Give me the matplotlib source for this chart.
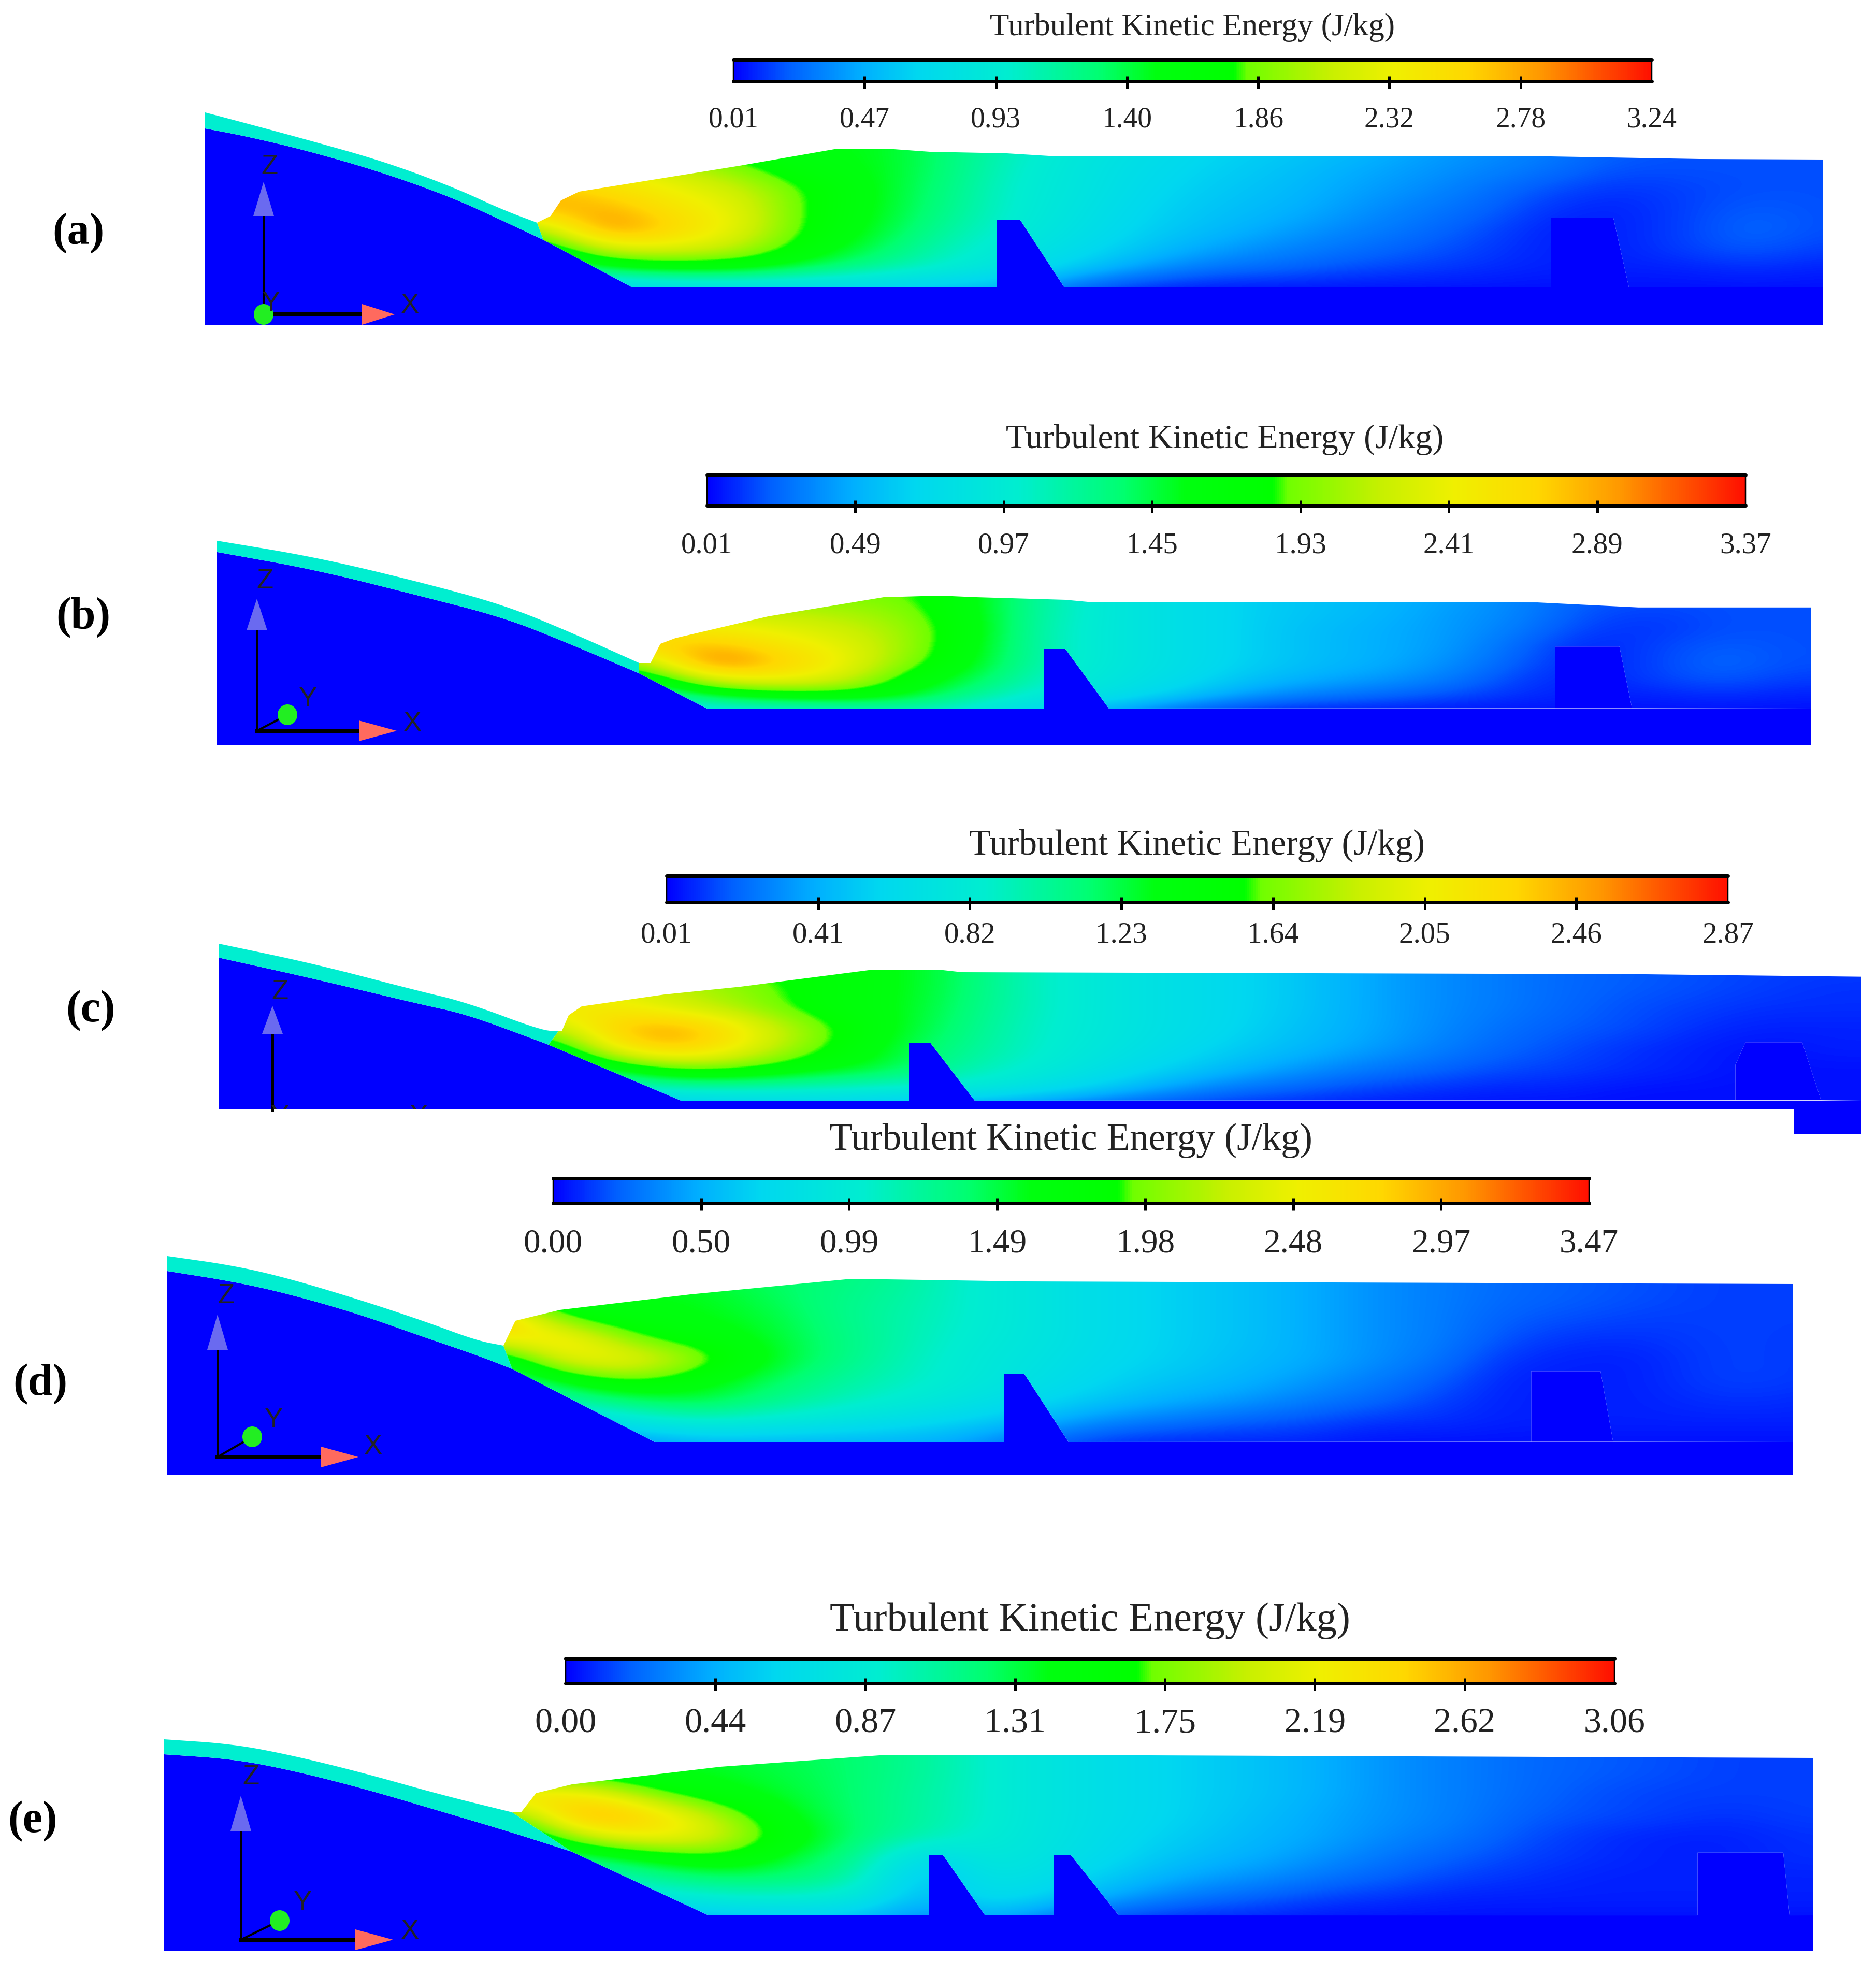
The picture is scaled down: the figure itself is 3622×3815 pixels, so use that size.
import numpy as np
import matplotlib
matplotlib.use("Agg")
import matplotlib.pyplot as plt
from matplotlib.colors import LinearSegmentedColormap
from matplotlib.patches import Polygon, Ellipse, Rectangle

plt.rcParams['font.family'] = ['Liberation Serif', 'DejaVu Serif']

W, H = 3623, 3815
title = "Turbulent Kinetic Energy (J/kg)"

# colour scale, position along bar in percent -> colour
cmap_pos = [0, 6, 14, 20, 30, 40, 46, 54.5, 56, 65, 72, 80, 88, 100]
cmap_col = ['#0000ff', '#0060ff', '#00b0ff', '#00d8f0', '#00eed0', '#00ff70', '#00ff10',
            '#00ff00', '#70ff00', '#c8f000', '#f0f000', '#ffd800', '#ff9800', '#ff1000']
cmap = LinearSegmentedColormap.from_list('tke', [(p / 100, c) for p, c in zip(cmap_pos, cmap_col)], N=512)

ticks_a = ['0.01', '0.47', '0.93', '1.40', '1.86', '2.32', '2.78', '3.24']
ticks_b = ['0.01', '0.49', '0.97', '1.45', '1.93', '2.41', '2.89', '3.37']
ticks_c = ['0.01', '0.41', '0.82', '1.23', '1.64', '2.05', '2.46', '2.87']
ticks_d = ['0.00', '0.50', '0.99', '1.49', '1.98', '2.48', '2.97', '3.47']
ticks_e = ['0.00', '0.44', '0.87', '1.31', '1.75', '2.19', '2.62', '3.06']

# TKE as percent of each panel's colour bar, sampled on a regular grid
field_a = [
 [60,60,56,50,46,46,40,32,27,23,20,18,16,13,11,9,6,5,5,5],
 [68,72,66,58,48,46,40,31,26,22,19,17,14,12,10,8,5,5,5,5],
 [84,78,72,66,54,46,39,30,26,21,18,16,13,11,8,5,3,4,5,5],
 [84,86,76,70,53,46,38,30,25,20,17,15,12,9,7,3,2,4,6,5],
 [60,92,80,70,53,45,36,29,24,19,16,13,10,8,5,2,2,4,7,5],
 [42,68,70,64,50,42,33,27,22,17,13,10,8,6,4,2,2,4,6,4],
 [32,44,48,48,42,36,30,25,18,12,8,7,5,4,3,2,2,2,3,2],
 [12,18,20,20,19,18,16,14,5,2,1,1,1,1,1,1,1,1,1,1]]
field_b = [
 [60,60,58,57,56,46,34,27,23,19,17,15,13,10,6,5,5,5],
 [66,66,64,62,58,46,34,27,23,19,17,15,12,10,5,4,5,5],
 [74,74,70,66,60,47,33,27,23,19,16,14,12,9,4,3,5,5],
 [80,84,76,70,60,46,33,27,23,19,16,14,12,7,2,4,6,5],
 [60,94,82,72,58,45,33,27,23,19,16,14,11,6,2,4,7,5],
 [42,70,74,68,50,42,31,26,22,17,14,12,9,4,2,4,6,4],
 [30,44,50,52,46,36,28,24,18,12,9,7,5,3,2,2,3,2],
 [20,24,26,28,30,26,18,12,5,2,1,1,1,1,1,1,1,1]]
field_c = [
 [60,58,56,54,50,47,42,33,28,24,21,18,14,11,9,7,6,5,4,4],
 [68,70,64,58,52,47,42,33,28,24,21,18,14,11,9,7,6,5,4,3],
 [76,74,66,60,50,47,41,33,28,24,21,18,14,11,9,7,5,4,3,3],
 [62,84,88,72,58,47,40,32,28,24,21,17,14,11,8,6,5,3,2,2],
 [40,76,84,70,56,45,38,32,27,23,19,16,13,10,7,5,3,2,1,2],
 [30,44,56,54,47,44,35,30,25,20,16,12,9,7,5,4,3,2,1,1],
 [25,28,30,30,30,28,28,24,19,13,8,6,4,3,2,2,1,1,1,1],
 [8,10,12,14,14,12,8,6,2,1,1,1,1,1,1,1,1,1,1,1]]
field_d = [
 [45,45,44,43,41,39,36,30,26,22,19,17,14,11,9,7,6,5,4,4,4],
 [46,46,46,46,42,38,35,30,26,22,19,17,14,11,9,7,6,5,4,4,4],
 [90,52,48,46,44,38,34,30,26,22,19,17,14,11,9,6,5,4,4,4,4],
 [72,80,56,50,45,39,34,29,26,22,19,17,14,11,9,5,3,3,4,4,3],
 [40,72,74,60,46,39,33,28,25,21,19,16,14,11,8,3,2,2,4,4,3],
 [34,46,57,48,42,36,32,28,24,20,17,15,12,9,6,2,2,2,4,4,3],
 [28,34,40,44,38,33,29,25,21,17,14,12,9,7,4,2,2,2,3,3,2],
 [18,20,26,30,28,25,22,19,15,10,8,6,5,3,3,2,2,2,2,2,2],
 [6,8,10,14,14,14,14,12,6,3,2,2,2,1,1,1,1,1,1,1,1]]
field_e = [
 [50,48,46,44,42,40,36,30,25,22,19,17,14,11,9,7,6,5,4,4],
 [50,48,46,45,43,40,36,30,25,22,19,17,14,11,9,7,6,5,4,4],
 [80,76,57,48,44,40,35,30,25,22,19,17,14,11,9,7,5,4,4,4],
 [56,92,80,62,46,40,35,30,25,22,19,16,13,11,9,6,5,4,3,4],
 [40,66,76,68,50,40,34,29,25,21,18,15,13,10,8,5,3,2,2,3],
 [34,40,48,55,44,38,20,28,24,20,16,14,11,8,6,4,3,2,2,3],
 [28,30,36,40,40,35,14,26,22,17,13,11,8,6,4,3,2,2,2,2],
 [22,24,26,30,30,28,14,23,18,12,8,6,4,3,2,2,2,2,2,2],
 [10,10,12,14,16,16,8,14,6,3,2,2,1,1,1,1,1,1,1,1]]

S = 3623 / 1489  # shrunk-view px to full px

def sh(pts):
    return [(x * S, y * S) for x, y in pts]

def smooth(pts, n=3):
    """Corner cutting for the rounded crest, keeps both ends."""
    pts = np.array(pts, dtype=float)
    for _ in range(n):
        q = [pts[0]]
        for a, b in zip(pts[:-1], pts[1:]):
            q += [0.75 * a + 0.25 * b, 0.25 * a + 0.75 * b]
        q.append(pts[-1])
        pts = np.array(q)
    return [tuple(v) for v in pts]

panels = [
 dict(name='(a)', lab=(151, 450), field=field_a, gx=(1040, 130), gy=(290, 38), ticks=ticks_a,
      bar=(1416, 3189, 115, 157), tx=2302, ty=53, ly=232, fs_title=44, fs_lab=40,
      left=396, right=3520, fb=555, pb=628,
      jet_top=[(396,217),(475,238),(590,269),(739,311),(877,362),(968,404),(1037,430)],
      crest=[(396,248),(475,263),(590,290),(739,333),(877,383),(968,425),(1049,463)], foot=(1221,555),
      flow=[(1037,430),(1063,417),(1083,387),(1118,370),(1428,320),(1611,288),(1726,288),(1795,293),
            (1944,296),(2025,301),(2994,302),(3281,307),(3520,308)],
      blocks=[[(2055,555),(1970,425),(1924,425),(1924,555)], [(3145,555),(3115,421),(2994,421),(2994,555)]],
      triad=dict(o=(509,607), zt=(509,351), zb=417, xb=699, xt=762, ell=(509,607), zl=(520,322), xl=(791,590), yl=(523,586))),
 dict(name='(b)', lab=(161, 1192), field=field_b, gx=(1240, 130), gy=(1150, 32), ticks=ticks_b,
      bar=(1365, 3370, 917, 976), tx=2365, ty=849, ly=1053, fs_title=47.5, fs_lab=41,
      left=418, right=3497, fb=1368, pb=1438,
      jet_top=sh([(172,429),(250,442),(330,461),(400,480)]) + [(1100,1220),(1234,1280)],
      crest=sh([(172,438),(250,452),(330,472),(400,490)]) + [(1100,1243),(1234,1300)], foot=(1365,1368),
      flow=[(1234,1280),(1256,1280),(1275,1243),(1304,1232),(1483,1190),(1706,1153),(1815,1150),(1885,1153),
            (2057,1158),(2100,1162)] + sh([(1220,478),(1300,482),(1437,482)]),
      blocks=[[(2141,1368),(2057,1253),(2015,1253),(2015,1368)], sh([(1295,562),(1285,513),(1234,513),(1234,562)])],
      triad=dict(o=(496,1411), zt=(496,1156), zb=1217, xb=693, xt=766, ell=(555,1380), zl=(511,1122), xl=(796,1397), yl=(594,1350))),
 dict(name='(c)', lab=(175, 1951), field=field_c, gx=(1060, 130), gy=(1865, 40), ticks=ticks_c,
      bar=(1287, 3336, 1691, 1742), tx=2311, ty=1633, ly=1805, fs_title=49.5, fs_lab=41,
      left=423, right=3593, fb=2125, pb=2142,
      jet_top=[(423,1822),(608,1861),(803,1912),(900,1935),(1047,1990),(1079,1990)],
      crest=[(423,1849),(608,1890),(803,1937),(900,1958),(1030,2006),(1059,2017)], foot=(1315,2125),
      flow=[(1079,1990),(1085,1990),(1098,1960),(1123,1943),(1283,1920),(1430,1905),(1685,1872),(1812,1872),
            (1857,1877)] + sh([(1300,773),(1477,775)]),
      blocks=[[(1882,2125),(1796,2013),(1755,2013),(1755,2125)], sh([(1445,873),(1430,827),(1385,827),(1377,845),(1377,873)])],
      notch=[(3463,2142),(3463,2190),(3593,2190),(3593,2142)],
      triad=dict(o=(526,2143), zt=(526,1942), zb=1996, xb=None, xt=None, ell=None, zl=(540,1915), xl=(808,2157), yl=(540,2157))),
 dict(name='(d)', lab=(78, 2672), field=field_d, gx=(960, 130), gy=(2465, 40), ticks=ticks_d,
      bar=(1068, 3068, 2275, 2323), tx=2068, ty=2202, ly=2402, fs_title=52.5, fs_lab=47,
      left=323, right=3462, fb=2784, pb=2847,
      jet_top=[(323,2425),(449,2443),(553,2467),(690,2508),(817,2550),(920,2588),(972,2598)],
      crest=[(323,2454),(449,2474),(553,2497),(690,2536),(817,2581),(920,2616),(989,2643)], foot=(1264,2784),
      flow=[(972,2598),(995,2550),(1081,2529),(1333,2499),(1643,2469),(1781,2471),(1976,2474),(3462,2479)],
      blocks=[[(2063,2784),(1978,2653),(1938,2653),(1938,2784)], sh([(1280,1144),(1270,1088),(1215,1088),(1215,1144)])],
      triad=dict(o=(420,2813), zt=(420,2538), zb=2606, xb=620, xt=692, ell=(487,2774), zl=(436,2502), xl=(720,2793), yl=(528,2742))),
 dict(name='(e)', lab=(63, 3516), field=field_e, gx=(1000, 130), gy=(3385, 40), ticks=ticks_e,
      bar=(1092, 3117, 3202, 3250), tx=2105, ty=3129, ly=3328, fs_title=56.5, fs_lab=49,
      left=317, right=3501, fb=3698, pb=3767,
      jet_top=[(317,3358),(449,3367),(564,3389),(702,3423),(851,3465),(989,3499)],
      crest=[(317,3387),(449,3396),(564,3418),(702,3453),(851,3497),(989,3538),(1104,3575)], foot=(1368,3698),
      flow=[(989,3499),(1006,3499),(1035,3462),(1104,3445),(1391,3411),(1712,3388),(1959,3388),(3501,3394)],
      blocks=[[(1902,3698),(1821,3582),(1793,3582),(1793,3698)], [(2160,3698),(2068,3582),(2034,3582),(2034,3698)],
              sh([(1420,1520),(1415,1470),(1347,1470),(1347,1520)])],
      triad=dict(o=(465,3745), zt=(465,3467), zb=3535, xb=686, xt=759, ell=(540,3708), zl=(484,3431), xl=(791,3729), yl=(584,3674))),
]

fig = plt.figure(figsize=(W / 100, H / 100), dpi=100)
ax = fig.add_axes([0, 0, 1, 1])
ax.set_axis_off()

def px(n):
    return n * 0.72

for p in panels:
    crest = smooth(p['crest'])
    jet_top = smooth(p['jet_top'])
    terrain = crest + [p['foot']]
    # solid blue base with the structures standing on it
    base = terrain + [(p['right'], p['fb']), (p['right'], p['pb']), (p['left'], p['pb'])]
    ax.add_patch(Polygon(base, closed=True, fc='#0000ff', ec='none', zorder=1))
    for b in p['blocks']:
        ax.add_patch(Polygon(b, closed=True, fc='#0000ff', ec='none', zorder=1))
    if 'notch' in p:
        ax.add_patch(Polygon(p['notch'], closed=True, fc='#0000ff', ec='none', zorder=1))
    # thin sheet over the crest
    jet = jet_top + crest[::-1]
    ax.add_patch(Polygon(jet, closed=True, fc=cmap(0.30), ec='none', zorder=2))
    # flow field clipped to the flow outline
    arr = np.array(p['field'], dtype=float)
    x0, dx = p['gx']
    y0, dy = p['gy']
    ny, nx = arr.shape
    im = ax.imshow(arr, cmap=cmap, vmin=0, vmax=100, interpolation='bicubic', interpolation_stage='data',
                   extent=(x0 - dx / 2, x0 + dx * (nx - 0.5), y0 + dy * (ny - 0.5), y0 - dy / 2),
                   origin='upper', aspect='auto', zorder=3)
    outline = list(p['flow']) + [(p['right'], p['fb'])]
    for b in p['blocks'][::-1]:
        outline += b
    outline += [p['foot'], p['crest'][-1]]
    clip = Polygon(outline, closed=True, fc='none', ec='none', transform=ax.transData)
    ax.add_patch(clip)
    im.set_clip_path(clip)
    # colour bar
    bx0, bx1, by0, by1 = p['bar']
    ax.imshow(np.linspace(0, 100, 512)[None, :], cmap=cmap, vmin=0, vmax=100, aspect='auto',
              extent=(bx0, bx1, by1, by0), origin='upper', zorder=3)
    ax.plot([bx0, bx1], [by0, by0], color='k', lw=px(7), solid_capstyle='round', zorder=4)
    ax.plot([bx0, bx1], [by1, by1], color='k', lw=px(7), solid_capstyle='round', zorder=4)
    ax.plot([bx0, bx0], [by0, by1], color='k', lw=px(2.5), zorder=4)
    ax.plot([bx1, bx1], [by0, by1], color='k', lw=px(2.5), zorder=4)
    tick_x = np.linspace(bx0, bx1, len(p['ticks']))
    for i, (tx, lab) in enumerate(zip(tick_x, p['ticks'])):
        if 0 < i < len(p['ticks']) - 1:
            ax.plot([tx, tx], [by1 - 10, by1 + 14], color='k', lw=px(5), solid_capstyle='butt', zorder=4)
        ax.text(tx, p['ly'], lab, ha='center', va='center', fontsize=p['fs_lab'], color='#222222', zorder=5)
    ax.text(p['tx'], p['ty'], title, ha='center', va='center', fontsize=p['fs_title'], color='#222222', zorder=5)
    ax.text(p['lab'][0], p['lab'][1], p['name'], ha='center', va='center', fontsize=62,
            fontweight='bold', color='k', zorder=5)
    # coordinate triad
    t = p['triad']
    ox, oy = t['o']
    frame = Rectangle((0, 0), W, p['pb'], transform=ax.transData)
    ax.plot([ox, ox], [t['zb'], oy], color='k', lw=px(5), zorder=6)
    ax.add_patch(Polygon([(ox - 20, t['zb']), (ox + 20, t['zb']), t['zt']], closed=True, fc='#6a6af0', ec='none', zorder=7))
    ax.text(t['zl'][0], t['zl'][1], 'Z', ha='center', va='center', fontsize=38, color='#222222',
            family=['Liberation Sans'], zorder=7)
    if t['xb'] is not None:
        ax.plot([ox, t['xb']], [oy, oy], color='k', lw=px(8), zorder=6)
        ax.add_patch(Polygon([(t['xb'], oy - 20), (t['xb'], oy + 20), (t['xt'], oy)], closed=True, fc='#ff6a5e', ec='none', zorder=7))
        ex, ey = t['ell']
        ax.plot([ox, ex], [oy, ey], color='k', lw=px(4), zorder=6)
        ax.add_patch(Ellipse((ex, ey), 38, 40, fc='#22ee22', ec='none', zorder=7))
    for s, key in (('X', 'xl'), ('Y', 'yl')):
        tt = ax.text(t[key][0], t[key][1], s, ha='center', va='center', fontsize=38, color='#222222',
                     family=['Liberation Sans'], zorder=7, clip_on=True)
        tt.set_clip_path(frame)

ax.set_xlim(0, W)
ax.set_ylim(H, 0)
fig.savefig('out.png', dpi=100, facecolor='white')
